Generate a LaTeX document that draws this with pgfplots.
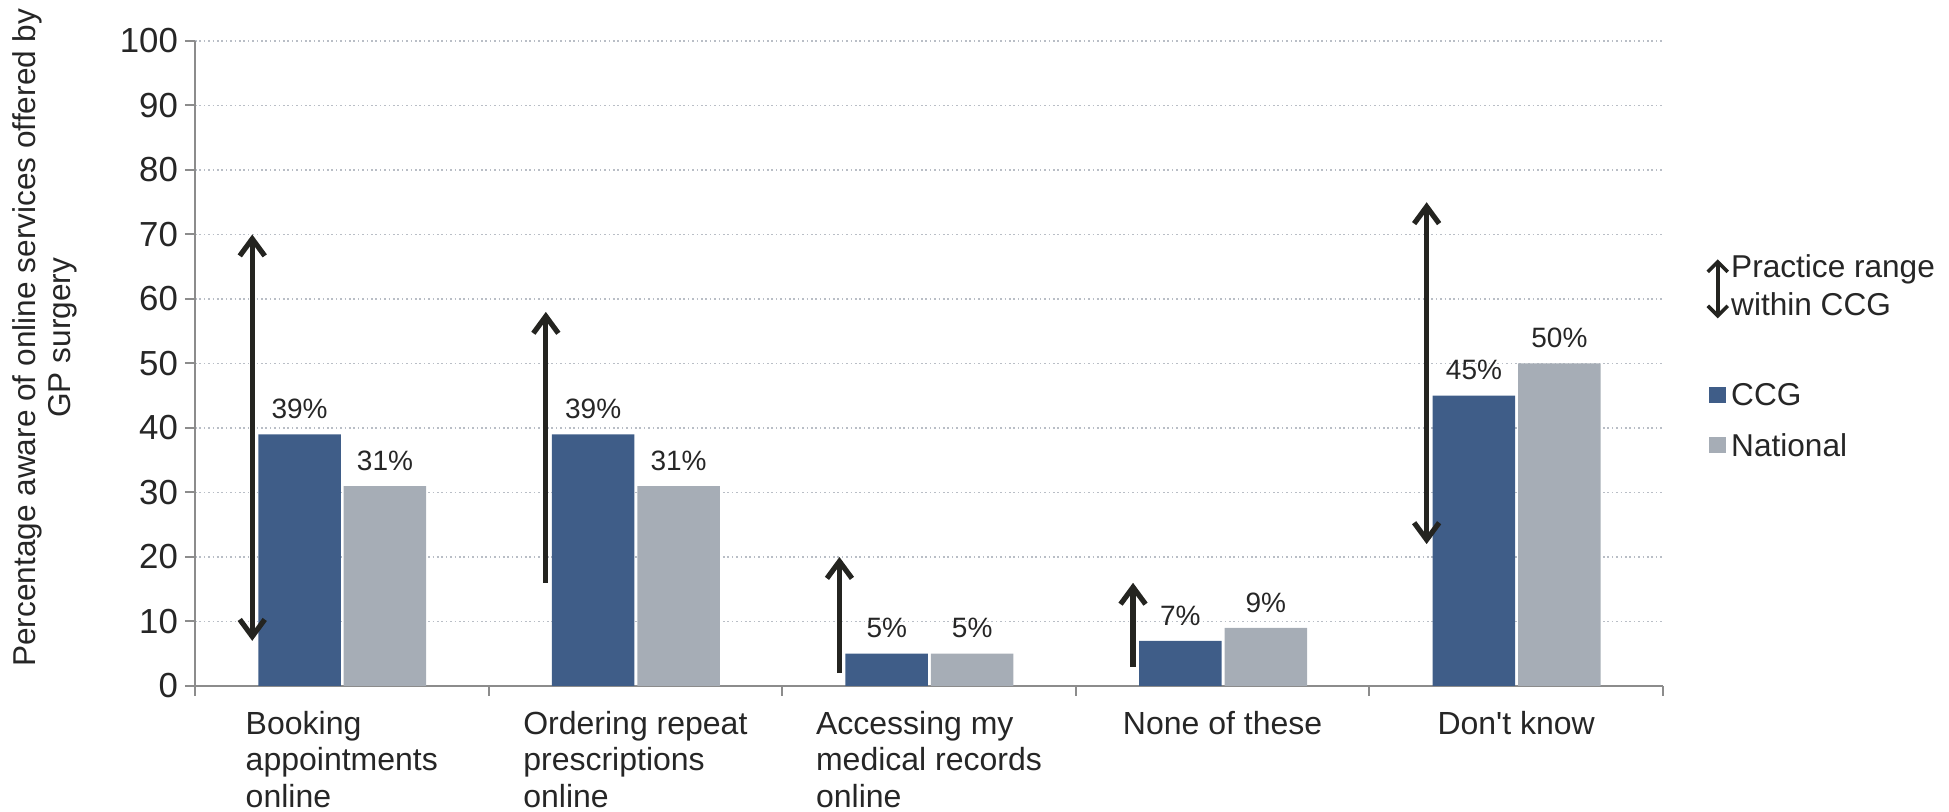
\documentclass[border=0pt]{standalone}
\usepackage{fontspec}
\setmainfont{Liberation Sans}
\usepackage{pgfplots}
\pgfplotsset{compat=1.18}
\usetikzlibrary{arrows.meta}

\definecolor{ccg}{RGB}{63,93,136}
\definecolor{natl}{RGB}{166,173,182}
\definecolor{ink}{RGB}{38,38,38}
\definecolor{arrowink}{RGB}{36,36,32}
\definecolor{axisgray}{RGB}{140,140,140}
\definecolor{gridgray}{RGB}{185,190,198}

\pgfplotsset{
  range arrow/.style={forget plot, draw=arrowink, line width=2.6pt,
    >={Straight Barb[length=8.5pt,width=12.5pt]}},
  value labels/.style={nodes near coords={\pgfmathprintnumber{\pgfplotspointmeta}\%},
    every node near coord/.append style={font=\fontsize{14}{16}\selectfont,
      text=ink, yshift=4.3pt, xshift=#1}},
}

\begin{document}
\begin{tikzpicture}[x=1pt,y=1pt]
\useasboundingbox (-97.5,-63) rectangle (877,343);
\begin{axis}[
  at={(0,0)}, anchor=south west,
  scale only axis, width=734pt, height=322.5pt,
  xmin=-0.5, xmax=4.5, ymin=0, ymax=100,
  clip=false,
  axis x line=bottom, axis y line=left,
  axis line style={-, draw=axisgray, line width=1pt},
  xtick={-0.5,0.5,...,4.5}, x tick label as interval,
  xticklabels={{Booking\\appointments\\online},
               {Ordering repeat\\prescriptions\\online},
               {Accessing my\\medical records\\online},
               {None of these},
               {Don\textquotesingle t know}},
  x tick label style={font=\fontsize{16}{18.4}\selectfont, align=left,
    anchor=north, text=ink, yshift=-3.9pt},
  ytick={0,10,...,100},
  y tick label style={font=\fontsize{17.4}{20}\selectfont, text=ink},
  /pgf/number format/assume math mode=true,
  tick align=outside, major tick length=5pt,
  tick style={draw=axisgray, line width=1pt},
  ymajorgrids,
  major grid style={draw=gridgray, line width=0.8pt, dash pattern=on 0.8pt off 1.4pt},
  ylabel={Percentage aware of online services offered by\\GP surgery},
  ylabel style={font=\fontsize{15.8}{17.4}\selectfont, align=center, text=ink,
    at={(axis description cs:-0.1024,0.54)}, anchor=center},
  legend cell align=left,
  legend style={at={(axis description cs:1.029,0.6793)}, anchor=north west,
    draw=none, fill=none, inner sep=0pt,
    font=\fontsize{15.8}{19.3}\selectfont, text=ink,
    row sep=12pt, column sep=-0.2pt,
    nodes={inner sep=1pt, text depth=}},
]

% legend: practice range marker, a spacer row, then the two series
\addlegendimage{legend image code/.code={
  \draw[draw=arrowink, line width=1.8pt, >={Straight Barb[length=5pt,width=10pt]}, <->]
    (4.25pt,-14.75pt) -- (4.25pt,14.75pt);}}
\addlegendentry{\begin{tabular}{@{}l@{}}Practice range\\within CCG\end{tabular}}
\addlegendimage{empty legend}
\addlegendentry{\rule{0pt}{0pt}}

\addplot[ybar, bar width=0.281, bar shift=-0.144, fill=ccg, draw=none,
  value labels=-21.1pt,
  legend image code/.code={\fill[ccg] (0pt,-4pt) rectangle (8.5pt,4pt);}]
  coordinates {(0,39) (1,39) (2,5) (3,7) (4,45)};
\addlegendentry{CCG}

\addplot[ybar, bar width=0.281, bar shift=0.147, fill=natl, draw=none,
  value labels=21.6pt,
  legend image code/.code={\fill[natl] (0pt,-4pt) rectangle (8.5pt,4pt);}]
  coordinates {(0,31) (1,31) (2,5) (3,9) (4,50)};
\addlegendentry{National}

% practice range within the CCG
\addplot[range arrow, <->] coordinates {(-0.305,7) (-0.305,70)};
\addplot[range arrow, ->]  coordinates {(0.695,16) (0.695,58)};
\addplot[range arrow, ->]  coordinates {(1.695,2) (1.695,20)};
\addplot[range arrow, ->]  coordinates {(2.695,3) (2.695,16)};
\addplot[range arrow, <->] coordinates {(3.695,22) (3.695,75)};
\end{axis}
\end{tikzpicture}
\end{document}
